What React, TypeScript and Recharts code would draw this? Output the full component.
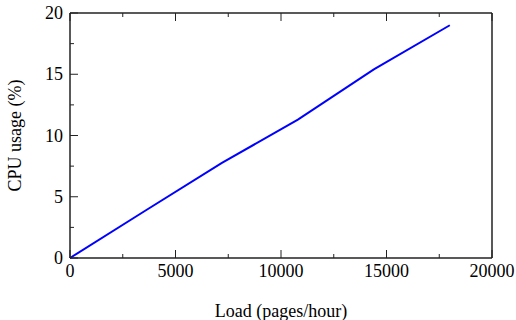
import React from 'react';
import { LineChart, Line, XAxis, YAxis, Label } from 'recharts';

// measured load points (pages/hour) and CPU usage (%)
const loads = [0, 3600, 7200, 10800, 14400, 18000];
const cpuUsage = [0, 3.9, 7.76, 11.3, 15.4, 19];

const xTicks = [0, 2500, 5000, 7500, 10000, 12500, 15000, 17500, 20000];
const yTicks = [0, 2.5, 5, 7.5, 10, 12.5, 15, 17.5, 20];

const data = loads.map((load, i) => ({ load, cpu: cpuUsage[i] }));

const FONT = '"Liberation Serif", "Times New Roman", serif';
const FRAME = '#222';
const FS = 18;

const BottomTick = (props: any) => {
  const { x, y, payload } = props;
  const major = payload.value % 5000 === 0;
  return (
    <g>
      <line x1={x} x2={x} y1={y} y2={y - (major ? 8 : 4)} stroke={FRAME} />
      {major && (
        <text x={x} y={y + 19} textAnchor="middle" fontFamily={FONT} fontSize={FS} fill="#000">
          {payload.value}
        </text>
      )}
    </g>
  );
};

const TopTick = (props: any) => {
  const { x, y, payload } = props;
  const major = payload.value % 5000 === 0;
  return <line x1={x} x2={x} y1={y} y2={y + (major ? 8 : 4)} stroke={FRAME} />;
};

const LeftTick = (props: any) => {
  const { x, y, payload } = props;
  const major = payload.value % 5 === 0;
  return (
    <g>
      <line x1={x} x2={x + (major ? 8 : 4)} y1={y} y2={y} stroke={FRAME} />
      {major && (
        <text x={x - 7} y={y + 6} textAnchor="end" fontFamily={FONT} fontSize={FS} fill="#000">
          {payload.value}
        </text>
      )}
    </g>
  );
};

const RightTick = (props: any) => {
  const { x, y, payload } = props;
  const major = payload.value % 5 === 0;
  return <line x1={x} x2={x - (major ? 8 : 4)} y1={y} y2={y} stroke={FRAME} />;
};

const XTitle = (props: any) => {
  const { x, y, width } = props.viewBox;
  return (
    <text x={x + width / 2} y={y + 58.7} textAnchor="middle" fontFamily={FONT} fontSize={FS} fill="#000">
      Load (pages/hour)
    </text>
  );
};

const YTitle = (props: any) => {
  const { y, height } = props.viewBox;
  const cx = 21;
  const cy = y + height / 2;
  return (
    <text
      x={cx}
      y={cy}
      transform={`rotate(-90, ${cx}, ${cy})`}
      textAnchor="middle"
      fontFamily={FONT}
      fontSize={FS}
      fill="#000"
    >
      CPU usage (%)
    </text>
  );
};

export default function App() {
  return (
    <div style={{ position: 'absolute', left: 0, top: 0, width: 516, height: 320 }}>
      <LineChart width={516} height={320} data={data} margin={{ top: 12, right: 23, left: 0, bottom: 0 }}>
        <XAxis
          type="number"
          dataKey="load"
          domain={[0, 20000]}
          ticks={xTicks}
          interval={0}
          height={62}
          tickSize={0}
          tickMargin={0}
          tickLine={false}
          tick={<BottomTick />}
          axisLine={{ stroke: FRAME, strokeWidth: 1.5 }}
        >
          <Label content={<XTitle />} />
        </XAxis>
        <XAxis
          xAxisId="top"
          orientation="top"
          type="number"
          dataKey="load"
          domain={[0, 20000]}
          ticks={xTicks}
          interval={0}
          height={1}
          tickSize={0}
          tickMargin={0}
          tickLine={false}
          tick={<TopTick />}
          axisLine={{ stroke: FRAME, strokeWidth: 1.5 }}
        />
        <YAxis
          type="number"
          domain={[0, 20]}
          ticks={yTicks}
          interval={0}
          width={70}
          tickSize={0}
          tickMargin={0}
          tickLine={false}
          tick={<LeftTick />}
          axisLine={{ stroke: FRAME, strokeWidth: 1.5 }}
        >
          <Label content={<YTitle />} />
        </YAxis>
        <YAxis
          yAxisId="right"
          orientation="right"
          type="number"
          domain={[0, 20]}
          ticks={yTicks}
          interval={0}
          width={1}
          tickSize={0}
          tickMargin={0}
          tickLine={false}
          tick={<RightTick />}
          axisLine={{ stroke: FRAME, strokeWidth: 1.5 }}
        />
        <Line
          type="linear"
          dataKey="cpu"
          stroke="#0000ff"
          strokeWidth={2}
          dot={false}
          isAnimationActive={false}
        />
      </LineChart>
    </div>
  );
}
